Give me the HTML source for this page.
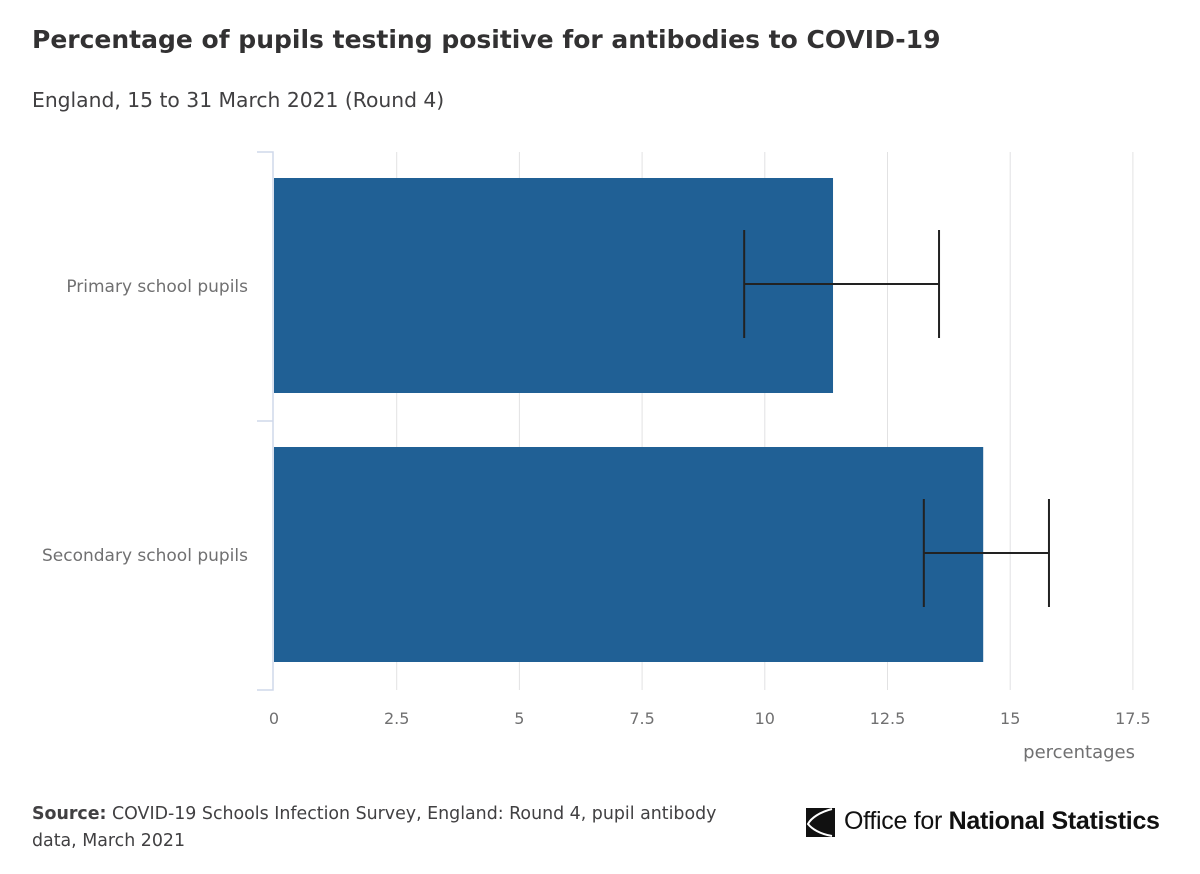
<!DOCTYPE html>
<html><head><meta charset="utf-8"><style>
body{margin:0;width:1200px;height:874px;background:#fff;font-family:"DejaVu Sans","Liberation Sans",sans-serif;overflow:hidden;position:relative}
.t{position:absolute;white-space:nowrap}
</style></head><body>
<div class="t" style="left:32px;top:25px;font-size:25px;font-weight:bold;color:#323132">Percentage of pupils testing positive for antibodies to COVID-19</div>
<div class="t" style="left:32px;top:88px;font-size:20.3px;color:#414042">England, 15 to 31 March 2021 (Round 4)</div>
<svg id="c" width="1200" height="874" style="position:absolute;left:0;top:0"></svg>
<div class="t" style="left:32px;top:801px;font-size:17.4px;line-height:27px;color:#414042"><b>Source:</b> COVID-19 Schools Infection Survey, England: Round 4, pupil antibody<br>data, March 2021</div>
<div style="position:absolute;left:804px;top:806px;">
<svg width="32" height="32" style="position:absolute;left:0;top:0"><path d="M2 2H31V31H2Z" fill="#111"/><path d="M28 3C16 6 7 12 4 18C8 23 16 28 28 30" stroke="#fff" stroke-width="2" fill="none"/></svg>
<div class="t" style="left:40px;top:1px;font-size:25px;color:#111;letter-spacing:-0.3px;font-family:'Liberation Sans',sans-serif">Office for <span style="font-weight:bold">National Statistics</span></div>
</div>
<script>
const categories=["Primary school pupils","Secondary school pupils"];
const values=[11.39,14.45];
const lower=[9.58,13.24];
const upper=[13.55,15.79];
const ticks=[0,2.5,5,7.5,10,12.5,15,17.5];
const tickLabels=["0","2.5","5","7.5","10","12.5","15","17.5"];
const NS="http://www.w3.org/2000/svg",svg=document.getElementById('c');
const x0=274,pxPer=49.08,yTop=152,band=269;
const X=v=>x0+v*pxPer;
const FF='DejaVu Sans, Liberation Sans, sans-serif';
function el(t,a,p){const e=document.createElementNS(NS,t);for(const k in a)e.setAttribute(k,a[k]);(p||svg).appendChild(e);return e;}
ticks.forEach((t,i)=>{
 if(i>0){const g=el('line',{x1:X(t),x2:X(t),y1:yTop,y2:690,stroke:'#e2e2e3','stroke-width':1});
 
 }
 const l=el('text',{x:X(t),y:724,'text-anchor':'middle','font-size':16,fill:'#707071','font-family':FF});
 l.textContent=tickLabels[i];
 
 
});
const ax=el('path',{d:`M257 ${yTop}H273V690H257M257 ${yTop+band}H273`,stroke:'#cfd8ea',fill:'none','stroke-width':1.5});


categories.forEach((c,i)=>{
 const by=yTop+i*band;
 const r=el('rect',{x:x0,y:by+26,width:X(values[i])-x0,height:215,fill:'#206095'});
 
 
 const cy=by+132,h=54;
 const e=el('path',{d:`M${X(lower[i])} ${cy-h}V${cy+h}M${X(upper[i])} ${cy-h}V${cy+h}M${X(lower[i])} ${cy}H${X(upper[i])}`,stroke:'#222',fill:'none','stroke-width':2});
 
 
 const t=el('text',{x:248,y:cy+8,'text-anchor':'end','font-size':17,fill:'#707071','font-family':FF});
 t.textContent=c;
 
 
});
const at=el('text',{x:1135,y:758,'text-anchor':'end','font-size':18,fill:'#707071','font-family':FF});
at.textContent='percentages';


</script>
</body></html>
